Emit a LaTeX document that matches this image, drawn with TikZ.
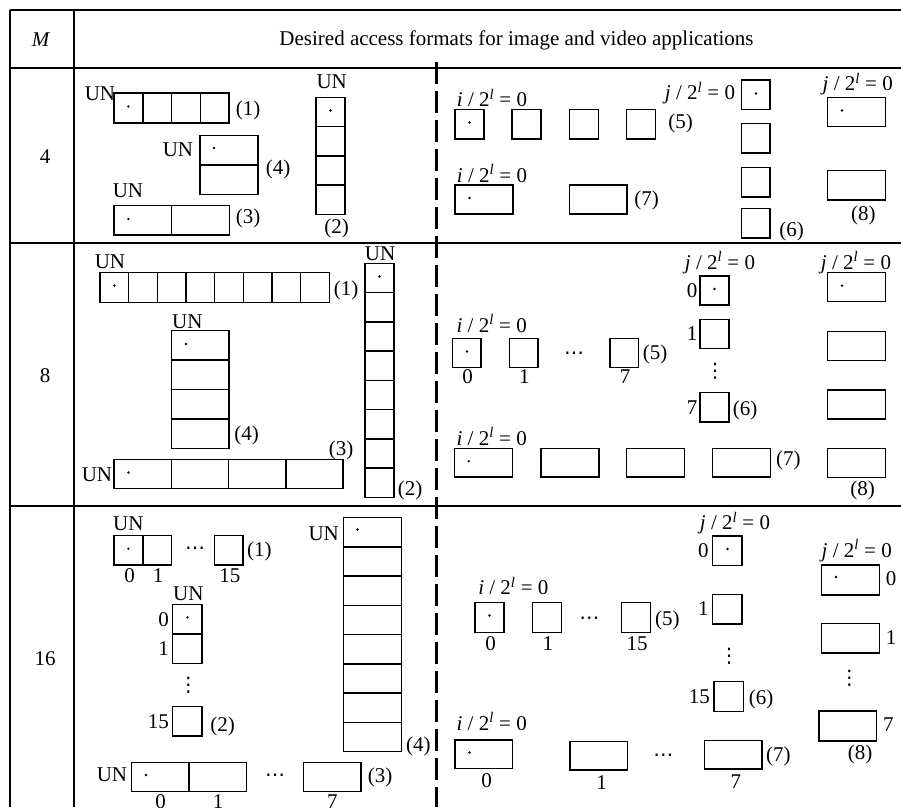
\documentclass[tikz,border=0pt]{standalone}
\usepackage{fontspec}
\setmainfont{Liberation Serif}
\newfontfamily\symfont{DejaVu Sans}
\usepackage{tikz}
\usetikzlibrary{calc}

\tikzset{
  txt/.style={font=\fontsize{21}{25}\selectfont, inner sep=0pt},
  sym/.style={font=\fontsize{20}{24}\symfont, inner sep=0pt},
  cell/.style={line width=1.5pt},
  rule/.style={line width=1.8pt},
}
\newcommand{\ilab}{\textit{i} / 2\textsuperscript{\textit{l}} = 0}
\newcommand{\jlab}{\textit{j} / 2\textsuperscript{\textit{l}} = 0}

\begin{document}
\begin{tikzpicture}[x=1pt,y=-1pt]
  \useasboundingbox (0,0) rectangle (901,807);
  % Table frame
  \draw[rule] (10,10) -- (901,10);
  \draw[rule] (10,68.3) -- (901,68.3);
  \draw[rule] (10,243) -- (901,243);
  \draw[rule] (10,506) -- (901,506);
  \draw[rule] (10,10) -- (10,807);
  \draw[rule] (74,10) -- (74,807);
  \draw[line width=2.4pt, dash pattern=on 22pt off 7pt] (436.5,62) -- (436.5,807);
  \node[txt] (hm) at (41,40) {\textit{M}};
  \node[txt] (htitle) at (516.5,40) {Desired access formats for image and video applications};
  \node[txt] (m4) at (45,157) {4};
  \node[txt] (m8) at (45,376) {8};
  \node[txt] (m16) at (45,659) {16};

  % M = 4, left
  \foreach \k in {0,...,3} \draw[cell] (114+\k*28.8,93) rectangle ++(28.8,30);
  \fill (128.4,106.5) circle (1.3pt);
  \node[txt] (un1a) at (100,94) {UN};
  \node[txt] (f1a) at (248,110) {(1)};
  \foreach \k in {0,1} \draw[cell] (200,135.3+\k*29.5) rectangle ++(58,29.5);
  \fill (214,148) circle (1.3pt);
  \node[txt] (un4a) at (178,150) {UN};
  \node[txt] (f4a) at (278,169) {(4)};
  \foreach \k in {0,1} \draw[cell] (114+\k*57.7,205.3) rectangle ++(57.7,29.7);
  \fill (128.4,219) circle (1.3pt);
  \node[txt] (un3a) at (128,191) {UN};
  \node[txt] (f3a) at (248,218) {(3)};
  \foreach \k in {0,...,3} \draw[cell] (316,97.3+\k*29.25) rectangle ++(29,29.25);
  \fill (330.5,110.5) circle (1.3pt);
  \node[txt] (un2a) at (331.7,81.7) {UN};
  \node[txt] (f2a) at (336.7,228) {(2)};

  % M = 4, right
  \node[txt] (i5a) at (492,98) {\ilab};
  \foreach \k in {0,...,3} \draw[cell] (455+\k*57.2,109.3) rectangle ++(29,29.7);
  \fill (469.5,122.5) circle (1.3pt);
  \node[txt] (f5a) at (680.7,123.3) {(5)};
  \node[txt] (i7a) at (492,173.3) {\ilab};
  \foreach \k in {0,1} \draw[cell] (455+\k*114.3,185) rectangle ++(57.8,29);
  \fill (469.5,198) circle (1.3pt);
  \node[txt] (f7a) at (646.7,200.7) {(7)};
  \node[txt] (j6a) at (700,93.3) {\jlab};
  \foreach \yy in {80,123.3,167.3,208.3} \draw[cell] (741.7,\yy) rectangle ++(28.5,29.5);
  \fill (756,93.5) circle (1.3pt);
  \node[txt] (f6a) at (791.7,231.7) {(6)};
  \node[txt] (j8a) at (857.7,84) {\jlab};
  \foreach \yy in {97.3,170.7} \draw[cell] (827.7,\yy) rectangle ++(58,29.3);
  \fill (842,110.5) circle (1.3pt);
  \node[txt] (f8a) at (863.3,215) {(8)};

  % M = 8, left
  \foreach \k in {0,...,7} \draw[cell] (100+\k*28.66,272.3) rectangle ++(28.66,30);
  \fill (114.3,285.5) circle (1.3pt);
  \node[txt] (un1b) at (110,261.7) {UN};
  \node[txt] (f1b) at (346,290) {(1)};
  \foreach \k in {0,...,7} \draw[cell] (365,263.3+\k*29.25) rectangle ++(29,29.25);
  \fill (379.5,276.5) circle (1.3pt);
  \node[txt] (un2b) at (380,254) {UN};
  \node[txt] (f2b) at (410,490) {(2)};
  \foreach \k in {0,...,3} \draw[cell] (171.7,330.7+\k*29.4) rectangle ++(57.3,29.4);
  \fill (186,344) circle (1.3pt);
  \node[txt] (un4b) at (187.3,321.7) {UN};
  \node[txt] (f4b) at (246.7,435) {(4)};
  \foreach \k in {0,...,3} \draw[cell] (114+\k*57.3,459.3) rectangle ++(57.3,29);
  \fill (128.5,472.5) circle (1.3pt);
  \node[txt] (un3b) at (97,474.3) {UN};
  \node[txt] (f3b) at (341,450) {(3)};

  % M = 8, right
  \node[txt] (i5b) at (491.7,323.3) {\ilab};
  \foreach \xx/\n in {452.7/0,509.3/1,610/7}{
    \draw[cell] (\xx,338.3) rectangle ++(28.5,29.4);
    \node[txt] (n5b\n) at (\xx+15,377) {\n};
  }
  \node[sym] (d5b) at (574,355.5) {⋯};
  \fill (467,351.5) circle (1.3pt);
  \node[txt] (f5b) at (655,354) {(5)};
  \node[txt] (j6b) at (720,262.7) {\jlab};
  \foreach \yy/\n in {276/0,319.3/1,392.7/7}{
    \draw[cell] (700,\yy) rectangle ++(29,29.2);
    \node[txt,anchor=east] (n6b\n) at (697.5,\yy+14.6) {\n};
  }
  \node[sym] (v6b) at (715,371.7) {⋮};
  \fill (714.5,289) circle (1.3pt);
  \node[txt] (f6b) at (745,410) {(6)};
  \node[txt] (i7b) at (491.7,436.7) {\ilab};
  \foreach \xx in {454.3,541,626.7,712.7} \draw[cell] (\xx,448.3) rectangle ++(58,28.5);
  \fill (468.8,461.3) circle (1.3pt);
  \node[txt] (f7b) at (788.3,460.7) {(7)};
  \node[txt] (j8b) at (856,262.7) {\jlab};
  \foreach \yy in {272.7,331.7,390,448.3} \draw[cell] (827.7,\yy) rectangle ++(58,29);
  \fill (842,285.7) circle (1.3pt);
  \node[txt] (f8b) at (862.7,490) {(8)};

  % M = 16, left
  \node[txt] (un1c) at (128.3,523.3) {UN};
  \foreach \xx/\n in {114/0,142.7/1,214.3/15}{
    \draw[cell] (\xx,535.7) rectangle ++(28.8,29.3);
    \node[txt] (n1c\n) at (\xx+15.5,576) {\n};
  }
  \node[sym] (d1c) at (195,550.5) {⋯};
  \fill (128.4,548.7) circle (1.3pt);
  \node[txt] (f1c) at (259.3,551.7) {(1)};
  \node[txt] (un2c) at (188.3,593.3) {UN};
  \foreach \yy/\n in {604.3/0,634/1,706.7/15}{
    \draw[cell] (172.7,\yy) rectangle ++(29.5,29.5);
    \node[txt,anchor=east] (n2c\n) at (169,\yy+15) {\n};
  }
  \node[sym] (v2c) at (188.3,685) {⋮};
  \fill (187.5,617.3) circle (1.3pt);
  \node[txt] (f2c) at (222.7,726.7) {(2)};
  \foreach \k in {0,...,7} \draw[cell] (343.3,517.7+\k*29.25) rectangle ++(58.3,29.25);
  \fill (357.5,529.5) circle (1.3pt);
  \node[txt] (un4c) at (323.7,533.3) {UN};
  \node[txt] (f4c) at (418.3,746.7) {(4)};
  \node[txt] (un3c) at (112,775) {UN};
  \foreach \xx/\n in {131.7/0,189/1,303.3/7}{
    \draw[cell] (\xx,762.3) rectangle ++(57.7,29.4);
    \node[txt] (n3c\n) at (\xx+29,802) {\n};
  }
  \node[sym] (d3c) at (275,777.5) {⋯};
  \fill (146,775) circle (1.3pt);
  \node[txt] (f3c) at (380,777.7) {(3)};

  % M = 16, right
  \node[txt] (i5c) at (513.3,586) {\ilab};
  \foreach \xx/\n in {475/0,532.3/1,621.7/15}{
    \draw[cell] (\xx,602.7) rectangle ++(29,29.6);
    \node[txt] (n5c\n) at (\xx+15.5,644) {\n};
  }
  \node[sym] (d5c) at (589.3,620.5) {⋯};
  \fill (489.5,615.5) circle (1.3pt);
  \node[txt] (f5c) at (667.3,620) {(5)};
  \node[txt] (j6c) at (735,523.3) {\jlab};
  \foreach \xx/\yy/\n in {712.7/536/0,712.7/594.3/1,714/681.7/15}{
    \draw[cell] (\xx,\yy) rectangle ++(29.5,29.6);
    \node[txt,anchor=east] (n6c\n) at (\xx-4,\yy+14.5) {\n};
  }
  \node[sym] (v6c) at (729,656.7) {⋮};
  \fill (727.5,549) circle (1.3pt);
  \node[txt] (f6c) at (761,699) {(6)};
  \node[txt] (j8c) at (856.7,550.7) {\jlab};
  \foreach \xx/\yy/\n in {821.7/565/0,821.7/623.3/1,819/711/7}{
    \draw[cell] (\xx,\yy) rectangle ++(57.6,29.8);
    \node[txt,anchor=west] (n8c\n) at (\xx+64,\yy+14) {\n};
  }
  \node[sym] (v8c) at (849.3,678.3) {⋮};
  \fill (836,577) circle (1.3pt);
  \node[txt] (f8c) at (860,754) {(8)};
  \node[txt] (i7c) at (491.7,721.7) {\ilab};
  \foreach \xx/\yy/\n in {455/740/0,570/741.7/1,704.3/740.7/7}{
    \draw[cell] (\xx,\yy) rectangle ++(57.7,28.5);
    \node[txt] (n7c\n) at (\xx+31.5,\yy+41) {\n};
  }
  \node[sym] (d7c) at (663.3,757.5) {⋯};
  \fill (469.5,752.5) circle (1.3pt);
  \node[txt] (f7c) at (778.3,756.7) {(7)};
\end{tikzpicture}
\end{document}
